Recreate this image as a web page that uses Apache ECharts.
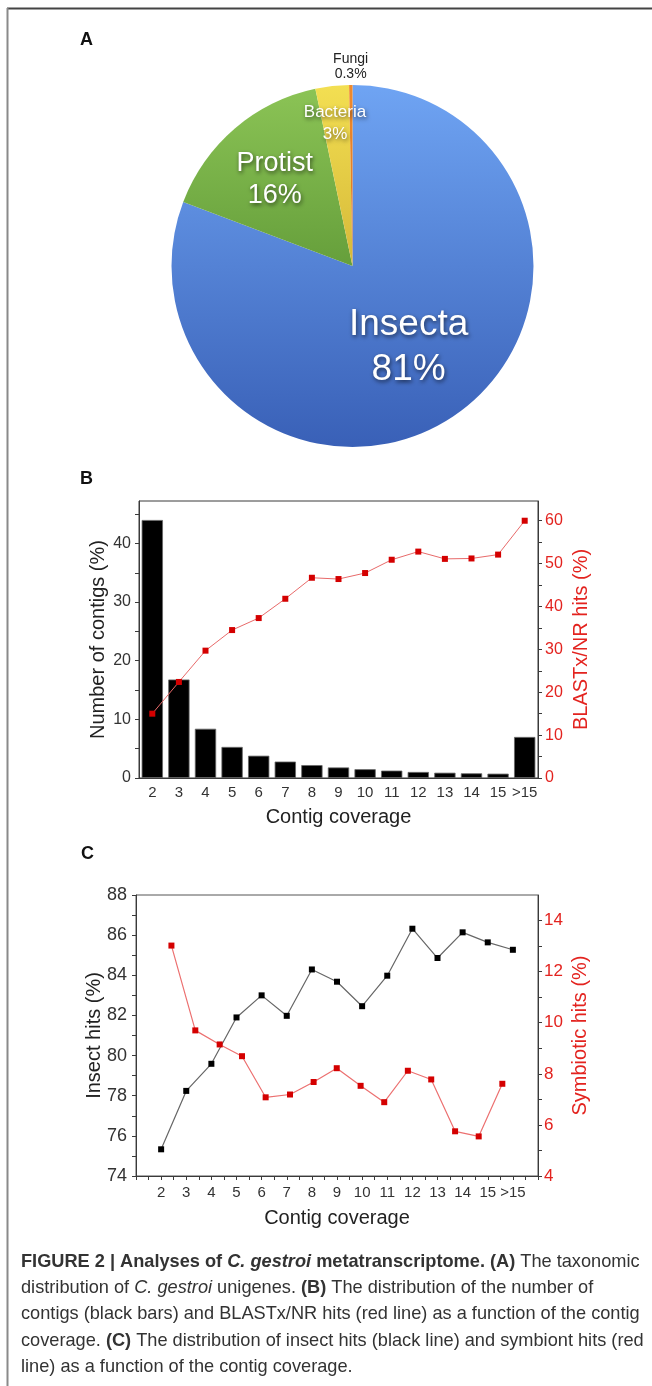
<!DOCTYPE html>
<html>
<head>
<meta charset="utf-8">
<script src="https://cdn.jsdelivr.net/npm/echarts@6.0.0/dist/echarts.min.js"></script>
<style>
html,body{margin:0;padding:0;background:#fff;}
#chart{width:652px;height:1386px;}
</style>
</head>
<body>
<div id="chart"></div>
<script>
// ---------- data ----------
const pieNames = ['Insecta', 'Protist', 'Bacteria', 'Fungi'];
const pieValues = [81, 16, 3, 0.3];

const coverageCats = ['2','3','4','5','6','7','8','9','10','11','12','13','14','15','>15'];
const contigPct = [44.0, 16.8, 8.4, 5.3, 3.8, 2.8, 2.2, 1.8, 1.5, 1.26, 1.03, 0.9, 0.8, 0.74, 7.0];
const blastxPct = [15.0, 22.4, 29.7, 34.5, 37.3, 41.8, 46.7, 46.4, 47.8, 50.9, 52.8, 51.1, 51.2, 52.1, 60.0];

const insectX = [2, 3, 4, 5, 6, 7, 8, 9, 10, 11, 12, 13, 14, 15, 16];
const insectHits = [75.33, 78.24, 79.59, 81.90, 83.00, 81.98, 84.29, 83.68, 82.46, 83.98, 86.32, 84.86, 86.14, 85.64, 85.27];
const symbioticX = [2.41, 3.36, 4.33, 5.22, 6.16, 7.13, 8.07, 8.99, 9.94, 10.88, 11.82, 12.75, 13.70, 14.64, 15.58];
const symbioticHits = [13.02, 9.70, 9.15, 8.69, 7.08, 7.19, 7.68, 8.22, 7.53, 6.89, 8.12, 7.78, 5.75, 5.55, 7.61];

const bLeftTicks = [0, 5, 10, 15, 20, 25, 30, 35, 40, 45];
const bLeftLabels = [0, 10, 20, 30, 40];
const bRightTicks = [0, 5, 10, 15, 20, 25, 30, 35, 40, 45, 50, 55, 60];
const bRightLabels = [0, 10, 20, 30, 40, 50, 60];
const cXTicks = [1,1.5,2,2.5,3,3.5,4,4.5,5,5.5,6,6.5,7,7.5,8,8.5,9,9.5,10,10.5,11,11.5,12,12.5,13,13.5,14,14.5,15,15.5,16,16.5,17];
const cXLabels = [2,3,4,5,6,7,8,9,10,11,12,13,14,15,16];
const cXLabelText = ['2','3','4','5','6','7','8','9','10','11','12','13','14','15','>15'];
const cLeftTicks = [74,75,76,77,78,79,80,81,82,83,84,85,86,87,88];
const cLeftLabels = [74,76,78,80,82,84,86,88];
const cRightTicks = [4,5,6,7,8,9,10,11,12,13,14];
const cRightLabels = [4,6,8,10,12,14];

// ---------- styles ----------
const FONT = '"Liberation Sans", Arial, Helvetica, sans-serif';
const RED = '#e3231f';
const AX = '#3a3a3a';

const pieColors = [
  ['#6fa4f3', '#3960b7'],
  ['#8cc456', '#3f7a20'],
  ['#f3df52', '#b8921f'],
  ['#f08a2c', '#c8601a']
];
const pieLabelStyle = [
  {fontSize: 37, lineHeight: 45, color: '#fff'},
  {fontSize: 27, lineHeight: 32, color: '#fff'},
  {fontSize: 17, lineHeight: 22, color: '#fff'},
  {fontSize: 14, lineHeight: 15, color: '#222', textShadowColor: 'rgba(255,255,255,0.8)', textShadowBlur: 2, textShadowOffsetX: 0, textShadowOffsetY: 0}
];
const pieLabelShift = [[3, 4], [-17, -15], [-7, -50], [-1, -106]];

function grad(c) {
  return new echarts.graphic.LinearGradient(0, 85, 0, 447, [
    {offset: 0, color: c[0]}, {offset: 1, color: c[1]}
  ], true);
}

const pieData = pieNames.map((n, i) => ({
  name: n,
  value: pieValues[i],
  itemStyle: {color: grad(pieColors[i])},
  label: pieLabelStyle[i]
}));

const captionLines = [
  '{b|FIGURE 2 | Analyses of }{bi|C. gestroi}{b| metatranscriptome. (A)}{n| The taxonomic}',
  '{n|distribution of }{i|C. gestroi}{n| unigenes. }{b|(B)}{n| The distribution of the number of}',
  '{n|contigs (black bars) and BLASTx/NR hits (red line) as a function of the contig}',
  '{n|coverage. }{b|(C)}{n| The distribution of insect hits (black line) and symbiont hits (red}',
  '{n|line) as a function of the contig coverage.}'
];
const CAPSIZE = 18.2;
const capRich = {
  n: {fontSize: CAPSIZE, fontFamily: FONT, color: '#333'},
  i: {fontSize: CAPSIZE, fontFamily: FONT, color: '#333', fontStyle: 'italic'},
  b: {fontSize: CAPSIZE, fontFamily: FONT, color: '#222', fontWeight: 'bold'},
  bi: {fontSize: CAPSIZE, fontFamily: FONT, color: '#222', fontWeight: 'bold', fontStyle: 'italic'}
};

function valueAxisCommon(color) {
  return {
    type: 'value',
    splitLine: {show: false},
    axisLine: {show: true, lineStyle: {color: AX, width: 1}},
    axisTick: {show: true, length: 4, lineStyle: {color: AX, width: 1}},
    axisLabel: {color: color, fontFamily: FONT},
    nameLocation: 'middle',
    nameMoveOverlap: false,
    nameTextStyle: {fontFamily: FONT, fontSize: 20, color: color}
  };
}

const chart = echarts.init(document.getElementById('chart'), null, {renderer: 'canvas'});

const option = {
  animation: false,
  backgroundColor: '#fff',
  textStyle: {fontFamily: FONT},
  grid: [
    {left: 139, top: 501, width: 399, height: 277, show: true, borderColor: AX, borderWidth: 1, backgroundColor: 'transparent'},
    {left: 136, top: 895, width: 402, height: 281, show: true, borderColor: '#555', borderWidth: 1, backgroundColor: 'transparent'}
  ],
  xAxis: [
    {
      type: 'category', gridIndex: 0, data: coverageCats, boundaryGap: true,
      axisLine: {lineStyle: {color: AX}},
      axisTick: {alignWithLabel: true, length: 4, lineStyle: {color: AX}},
      axisLabel: {interval: 0, fontSize: 15, color: '#333', margin: 7, fontFamily: FONT},
      splitLine: {show: false},
      name: 'Contig coverage', nameLocation: 'middle', nameGap: 29, nameMoveOverlap: false,
      nameTextStyle: {fontFamily: FONT, fontSize: 20, color: '#222'}
    },
    Object.assign(valueAxisCommon('#333'), {
      gridIndex: 1, min: 1, max: 17, interval: 0.5,
      axisTick: {show: true, length: 4, lineStyle: {color: AX}, customValues: cXTicks},
      axisLabel: {fontSize: 15, color: '#333', margin: 9, fontFamily: FONT, customValues: cXLabels,
        formatter: v => { const k = cXLabels.indexOf(v); return k >= 0 ? cXLabelText[k] : ''; }},
      name: 'Contig coverage', nameGap: 32,
      nameTextStyle: {fontFamily: FONT, fontSize: 20, color: '#222'}
    })
  ],
  yAxis: [
    Object.assign(valueAxisCommon('#222'), {
      gridIndex: 0, position: 'left', min: 0, max: 47.24, interval: 5,
      axisTick: {show: true, length: 4, lineStyle: {color: AX}, customValues: bLeftTicks},
      axisLabel: {fontSize: 16, color: '#333', margin: 8, fontFamily: FONT, customValues: bLeftLabels,
        formatter: v => (v % 10 === 0 ? String(v) : '')},
      name: 'Number of contigs (%)', nameGap: 31
    }),
    Object.assign(valueAxisCommon(RED), {
      gridIndex: 0, position: 'right', min: 0, max: 64.6, interval: 5,
      axisTick: {show: true, length: 4, lineStyle: {color: AX}, customValues: bRightTicks},
      axisLabel: {fontSize: 16, color: RED, margin: 7, fontFamily: FONT, customValues: bRightLabels,
        formatter: v => (v % 10 === 0 ? String(v) : '')},
      name: 'BLASTx/NR hits (%)', nameGap: 33
    }),
    Object.assign(valueAxisCommon('#222'), {
      gridIndex: 1, position: 'left', min: 74, max: 88, interval: 1,
      axisTick: {show: true, length: 4, lineStyle: {color: AX}, customValues: cLeftTicks},
      axisLabel: {fontSize: 18, color: '#333', margin: 9, fontFamily: FONT, customValues: cLeftLabels,
        formatter: v => (v % 2 === 0 ? String(v) : '')},
      name: 'Insect hits (%)', nameGap: 32
    }),
    Object.assign(valueAxisCommon(RED), {
      gridIndex: 1, position: 'right', min: 4, max: 15, interval: 1,
      axisTick: {show: true, length: 4, lineStyle: {color: AX}, customValues: cRightTicks},
      axisLabel: {fontSize: 17, color: RED, margin: 6, fontFamily: FONT, customValues: cRightLabels,
        formatter: v => (v % 2 === 0 && v <= 14 ? String(v) : '')},
      name: 'Symbiotic hits (%)', nameGap: 32
    })
  ],
  series: [
    {
      type: 'pie',
      center: [352.5, 266],
      radius: [0, 181],
      startAngle: 90,
      clockwise: true,
      silent: true,
      data: pieData,
      label: {
        show: true, position: 'inside', fontFamily: FONT,
        formatter: p => p.name + '\n' + p.value + '%',
        textShadowColor: 'rgba(0,0,0,0.6)', textShadowBlur: 4, textShadowOffsetX: 1, textShadowOffsetY: 2
      },
      labelLine: {show: false},
      labelLayout: p => ({dx: pieLabelShift[p.dataIndex][0], dy: pieLabelShift[p.dataIndex][1]}),
      emphasis: {disabled: true}
    },
    {
      type: 'bar', xAxisIndex: 0, yAxisIndex: 0, data: contigPct, barWidth: '80%',
      itemStyle: {color: '#000', borderColor: '#666', borderWidth: 0.8},
      silent: true
    },
    {
      type: 'line', xAxisIndex: 0, yAxisIndex: 1, data: blastxPct,
      symbol: 'rect', symbolSize: 6, showAllSymbol: true,
      lineStyle: {color: '#e86a6a', width: 1},
      itemStyle: {color: '#d40000', borderWidth: 0},
      silent: true
    },
    {
      type: 'line', xAxisIndex: 1, yAxisIndex: 2,
      data: insectX.map((x, i) => [x, insectHits[i]]),
      symbol: 'rect', symbolSize: 6, showAllSymbol: true,
      lineStyle: {color: '#666', width: 1.2},
      itemStyle: {color: '#000', borderWidth: 0},
      silent: true
    },
    {
      type: 'line', xAxisIndex: 1, yAxisIndex: 3,
      data: symbioticX.map((x, i) => [x, symbioticHits[i]]),
      symbol: 'rect', symbolSize: 6, showAllSymbol: true,
      lineStyle: {color: '#ec7070', width: 1.2},
      itemStyle: {color: '#d40000', borderWidth: 0},
      silent: true
    }
  ],
  graphic: [
    {type: 'line', shape: {x1: 7, y1: 8.5, x2: 652, y2: 8.5}, style: {stroke: '#444', lineWidth: 2}, silent: true},
    {type: 'line', shape: {x1: 7.5, y1: 8, x2: 7.5, y2: 1386}, style: {stroke: '#8a8a8a', lineWidth: 2}, silent: true},
    {type: 'text', left: 80, top: 31, style: {text: 'A', font: 'bold 18px ' + FONT, fill: '#111'}},
    {type: 'text', left: 80, top: 470, style: {text: 'B', font: 'bold 18px ' + FONT, fill: '#111'}},
    {type: 'text', left: 81, top: 845, style: {text: 'C', font: 'bold 18px ' + FONT, fill: '#111'}}
  ].concat(captionLines.map((t, i) => ({
    type: 'text', left: 21, top: 1253 + i * 26.2,
    style: {text: t, rich: capRich, font: CAPSIZE + 'px ' + FONT, fill: '#333'}
  })))
};

chart.setOption(option);
</script>
</body>
</html>
